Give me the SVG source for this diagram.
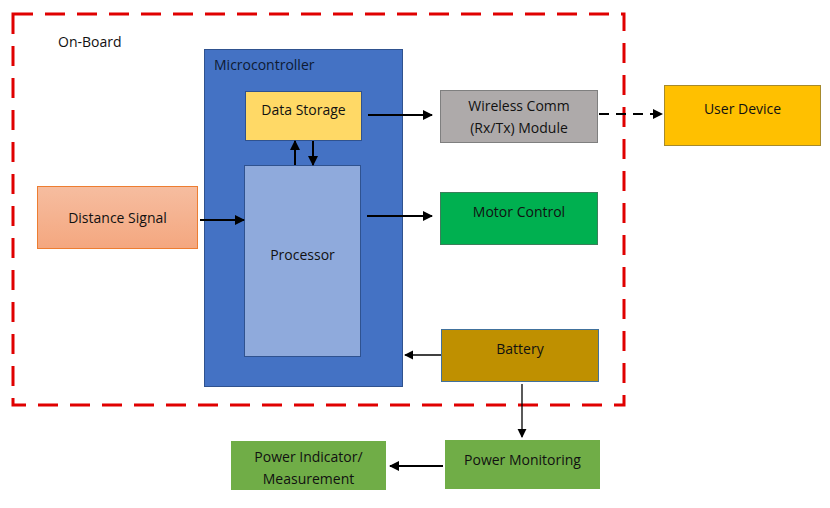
<svg xmlns="http://www.w3.org/2000/svg" width="830" height="508" viewBox="0 0 830 508">
<defs>
<style>
text{font-family:"Open Sans","Liberation Sans",sans-serif;font-size:14px;fill:#111}
.c{text-anchor:middle}
.ln{stroke:#000;stroke-width:2;fill:none}
.thin{stroke:#000;stroke-width:1.3;fill:none}
</style>
<marker id="ah" viewBox="0 0 10 10" refX="9" refY="5" markerWidth="5" markerHeight="5" orient="auto"><path d="M0,0L10,5L0,10z" fill="#000"/></marker>
<marker id="ahs" viewBox="0 0 10 10" refX="9" refY="5" markerWidth="7" markerHeight="7" orient="auto"><path d="M0,0L10,5L0,10z" fill="#000"/></marker>
<linearGradient id="og" x1="0" y1="0" x2="0" y2="1"><stop offset="0" stop-color="#F6BDA0"/><stop offset="1" stop-color="#F4A77F"/></linearGradient>
</defs>
<rect width="830" height="508" fill="#fff"/>
<g id="onboard">
<rect x="13" y="14" width="611" height="391" fill="none" stroke="#E00000" stroke-width="3" stroke-dasharray="20,12"/>
<text x="58" y="47">On-Board</text>
</g>
<g id="microcontroller">
<rect x="204.5" y="49.5" width="198" height="337" fill="#4472C4" stroke="#2F528F"/>
<text x="214" y="70" style="fill:#0d1a33">Microcontroller</text>
</g>
<g id="data-storage">
<rect x="245.5" y="91.5" width="116" height="49" fill="#FFD966" stroke="#2F528F"/>
<text class="c" x="303.5" y="115">Data Storage</text>
</g>
<g id="processor">
<rect x="244.5" y="165.5" width="116" height="191" fill="#8FAADC" stroke="#2F528F"/>
<text class="c" x="302.5" y="260">Processor</text>
</g>
<g id="distance-signal">
<rect x="37.5" y="186.5" width="160" height="62" fill="url(#og)" stroke="#ED7D31"/>
<text class="c" x="117.5" y="223">Distance Signal</text>
</g>
<g id="wireless">
<rect x="440.5" y="90.5" width="157" height="52" fill="#AEAAAA" stroke="#7F7F7F"/>
<text class="c" x="519" y="111">Wireless Comm</text>
<text class="c" x="519" y="133">(Rx/Tx) Module</text>
</g>
<g id="user-device">
<rect x="664.5" y="85.5" width="156" height="60" fill="#FFC000" stroke="#A68A2D"/>
<text class="c" x="742.5" y="114">User Device</text>
</g>
<g id="motor-control">
<rect x="440.5" y="192.5" width="157" height="52" fill="#00B050" stroke="#3B7F5A"/>
<text class="c" x="519" y="217">Motor Control</text>
</g>
<g id="battery">
<rect x="441.5" y="329.5" width="157" height="52" fill="#BF9000" stroke="#41719C"/>
<text class="c" x="520" y="354">Battery</text>
</g>
<g id="power-monitoring">
<rect x="445" y="440" width="155" height="49" fill="#70AD47"/>
<text class="c" x="522.5" y="465">Power Monitoring</text>
</g>
<g id="power-indicator">
<rect x="231" y="441" width="155" height="49" fill="#70AD47"/>
<text class="c" x="308.5" y="462">Power Indicator/</text>
<text class="c" x="308.5" y="484">Measurement</text>
</g>
<g id="connectors">
<line class="ln" x1="200" y1="220" x2="244" y2="220" marker-end="url(#ah)"/>
<line class="ln" x1="295" y1="165" x2="295" y2="141" marker-end="url(#ah)"/>
<line class="ln" x1="313" y1="141" x2="313" y2="165" marker-end="url(#ah)"/>
<line class="ln" x1="368" y1="115" x2="432" y2="115" marker-end="url(#ah)"/>
<line class="ln" x1="367" y1="216" x2="432" y2="216" marker-end="url(#ah)"/>
<line class="ln" x1="599" y1="114" x2="662" y2="114" stroke-dasharray="10,7" marker-end="url(#ah)"/>
<line class="thin" x1="441" y1="355" x2="405" y2="355" marker-end="url(#ahs)"/>
<line class="thin" x1="522" y1="384" x2="522" y2="437" marker-end="url(#ahs)"/>
<line class="ln" x1="443" y1="466" x2="390" y2="466" marker-end="url(#ah)"/>
</g>
</svg>
